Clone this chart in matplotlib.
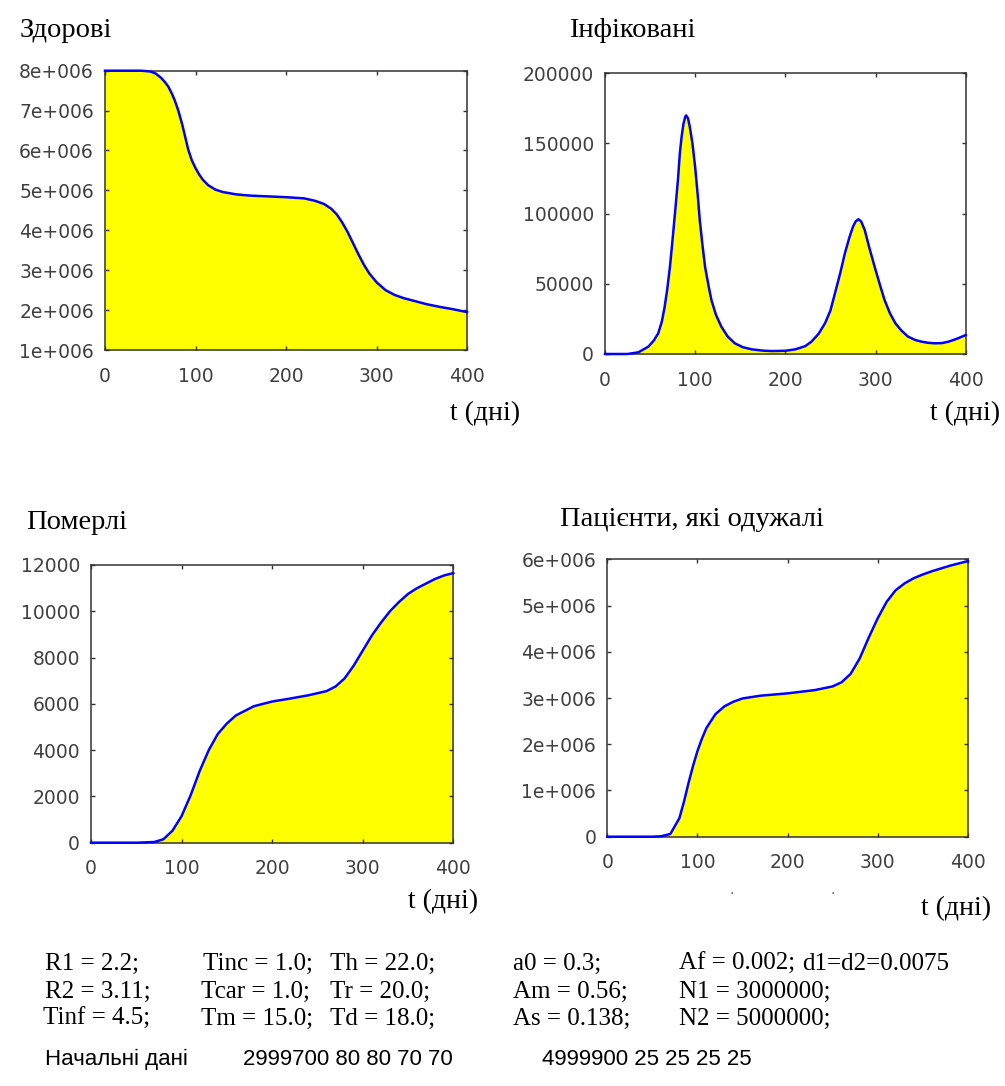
import numpy as np
import matplotlib.pyplot as plt
from matplotlib.ticker import FuncFormatter, MultipleLocator

plt.rcParams['font.family'] = ['DejaVu Sans']

W, H = 1005, 1086

# Здорові (susceptible)
t_s = [0, 20, 40, 50, 56, 62, 66, 70, 74, 77, 81, 85, 88, 92, 96, 100, 104, 108, 114, 122, 130,
       145, 160, 180, 200, 220, 232, 242, 250, 256, 262, 268, 274, 280, 286, 292, 300, 310, 320,
       330, 340, 355, 370, 385, 400]
S = [8.0e6, 8.0e6, 8.0e6, 7.98e6, 7.93e6, 7.82e6, 7.72e6, 7.6e6, 7.42e6, 7.26e6, 7.0e6, 6.68e6,
     6.4e6, 6.02e6, 5.75e6, 5.56e6, 5.4e6, 5.27e6, 5.13e6, 5.02e6, 4.96e6,
     4.9e6, 4.87e6, 4.85e6, 4.83e6, 4.8e6, 4.74e6, 4.66e6, 4.54e6, 4.4e6, 4.2e6, 3.96e6, 3.68e6,
     3.4e6, 3.14e6, 2.92e6, 2.7e6, 2.5e6, 2.38e6, 2.3e6, 2.24e6, 2.15e6, 2.08e6, 2.02e6, 1.95e6]

# Інфіковані (infected)
t_i = [0, 25, 37, 48, 54, 59, 63, 66, 69, 72, 75, 78, 81, 83, 85, 87, 89, 90, 92, 94, 97, 100,
       103, 105, 108, 111, 115, 118, 123, 129, 136, 144, 153, 163, 175, 185, 200, 211, 222, 229,
       237, 244, 250, 255, 261, 266, 271, 275, 278, 281, 284, 288, 293, 299, 305, 310, 316, 322,
       329, 336, 344, 351, 358, 366, 374, 381, 390, 400]
I = [0, 0, 1200, 5200, 9500, 14700, 23000, 33000, 46000, 62000, 82000, 103000, 125000, 143000,
     155000, 164000, 169000, 170000, 168000, 162000, 150000, 133000,
     112000, 96000, 78000, 62000, 48000, 38500, 28000, 19500, 12500, 7600, 4800, 3300, 2400, 2100,
     2300, 3300, 5600, 8800, 14500, 21900, 31000, 43200, 58000, 71700, 83000, 90700, 94500, 96000,
     94500, 88400, 76000, 62200, 49000, 38500, 29000, 21900, 16500, 12400, 10000, 8800, 8000,
     7600, 7800, 8800, 10800, 13500]

# Померлі (deaths)
t_d = [0, 50, 70, 80, 90, 100, 110, 120, 130, 140, 150, 160, 180, 200, 220, 240, 260, 270, 280,
       290, 300, 310, 320, 330, 340, 350, 360, 370, 380, 390, 400]
D = [0, 0, 30, 150, 520, 1150, 2050, 3100, 4000, 4700, 5150, 5500, 5900, 6100, 6230, 6370, 6550,
     6750, 7100, 7650, 8300, 8950, 9500, 10000, 10400, 10750, 11000, 11200, 11400, 11550, 11650]

# Пацієнти, які одужалі (recovered)
t_r = [0, 50, 60, 70, 80, 85, 90, 95, 100, 105, 110, 120, 130, 140, 150, 170, 200, 230, 250, 260,
       270, 280, 290, 300, 310, 320, 330, 340, 350, 360, 370, 380, 390, 400]
R = [0, 0, 10000, 60000, 400000, 750000, 1150000, 1520000, 1850000, 2120000, 2350000, 2650000,
     2820000, 2920000, 2990000, 3050000, 3100000, 3170000, 3250000, 3340000, 3520000, 3850000,
     4300000, 4720000, 5080000, 5330000, 5480000, 5590000, 5670000, 5740000, 5800000, 5860000,
     5910000, 5960000]

x_ticks = [0, 100, 200, 300, 400]


def fmt_mil(v, p):
    if abs(v) < 1:
        return "0"
    return f"{int(round(v / 1e6))}e+006"


panels = [
    # title, t, y, ylim, ystep, millions, axes rect (px: left, top, right, bottom), title pos, xlabel pos
    ("Здорові", t_s, S, (1e6, 8e6), 1e6, True, (105, 70.7, 467, 350), (20, 37), (450, 420)),
    ("Інфіковані", t_i, I, (0, 200000), 50000, False, (605, 73.3, 965.7, 354), (569, 37), (930, 420)),
    ("Померлі", t_d, D, (0, 12000), 2000, False, (91, 565, 453.3, 842.7), (26, 529), (408, 908)),
    ("Пацієнти, які одужалі", t_r, R, (0, 6e6), 1e6, True, (607.3, 559.3, 967.7, 836.7), (560, 526), (921, 915)),
]

fig = plt.figure(figsize=(W / 100, H / 100), dpi=100)

for title, t, y, ylim, ystep, mil, (l, top, r, b), (tx, ty), (lx, ly) in panels:
    ax = fig.add_axes([l / W, 1 - b / H, (r - l) / W, (b - top) / H])
    ax.fill_between(t, y, ylim[0], color="#ffff00", linewidth=0)
    ax.plot(t, y, color="#0000ff", lw=1.8, clip_on=False, zorder=3)
    ax.set_xlim(0, 400)
    ax.set_ylim(*ylim)
    ax.set_xticks(x_ticks)
    ax.yaxis.set_major_locator(MultipleLocator(ystep))
    if mil:
        ax.yaxis.set_major_formatter(FuncFormatter(fmt_mil))
    else:
        ax.yaxis.set_major_formatter(FuncFormatter(lambda v, p: f"{int(v)}"))
    for sp in ax.spines.values():
        sp.set_color("#333333")
        sp.set_linewidth(1.1)
    ax.tick_params(direction="in", top=True, right=True, length=3, width=1, color="#333333",
                   labelsize=13.5, labelcolor="#404040")
    ax.tick_params(axis="x", pad=12)
    ax.tick_params(axis="y", pad=8)
    fig.text(tx / W, 1 - ty / H, title, ha="left", va="baseline", fontsize=20.5,
             family="Liberation Serif")
    fig.text(lx / W, 1 - ly / H, "t (дні)", ha="left", va="baseline", fontsize=20,
             family="Liberation Serif")

# stray dots under the last panel
for dx in (732, 833):
    fig.text(dx / W, 1 - 894 / H, ".", ha="center", va="baseline", fontsize=10, color="#555555")

params = [
    [(45, "R1 = 2.2;"), (203, "Tinc = 1.0;"), (330, "Th = 22.0;"), (513, "a0 = 0.3;"),
     (679, "Af = 0.002;"), (802, "d1=d2=0.0075")],
    [(45, "R2 = 3.11;"), (201, "Tcar = 1.0;"), (330, "Tr = 20.0;"), (513, "Am = 0.56;"),
     (679, "N1 = 3000000;")],
    [(43, "Tinf = 4.5;"), (201, "Tm = 15.0;"), (330, "Td = 18.0;"), (513, "As = 0.138;"),
     (679, "N2 = 5000000;")],
]
row_y = [970, 998, 1025]
for row, yy in zip(params, row_y):
    for xx, s in row:
        fig.text(xx / W, 1 - yy / H, s, ha="left", va="baseline", fontsize=18,
                 family="Liberation Serif")

init = [(45, "Начальні дані"), (243, "2999700 80 80 70 70"), (542, "4999900 25 25 25 25")]
for xx, s in init:
    fig.text(xx / W, 1 - 1065 / H, s, ha="left", va="baseline", fontsize=16,
             family="Liberation Sans")

fig.savefig("out.png", dpi=100)
